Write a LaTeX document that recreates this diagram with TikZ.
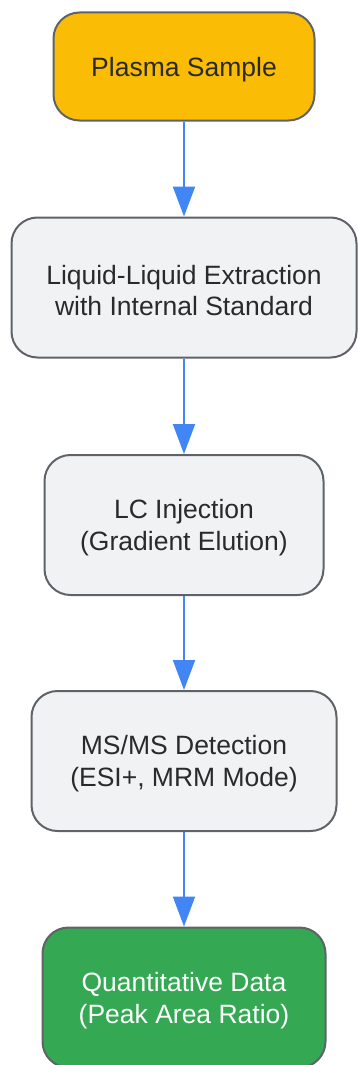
\documentclass[tikz,border=0pt]{standalone}
\usepackage{fontspec}
\setmainfont{Liberation Sans}
\usetikzlibrary{arrows.meta}
\definecolor{yellowfill}{HTML}{FABC05}
\definecolor{grayfill}{HTML}{F1F2F4}
\definecolor{greenfill}{HTML}{34A853}
\definecolor{bordercol}{HTML}{5F6368}
\definecolor{arrowcol}{HTML}{4285F4}
\definecolor{txtcol}{HTML}{2A2A2A}
\tikzset{
  box/.style={draw=bordercol, line width=2pt, rounded corners=26pt, inner sep=0pt},
  boxtext/.style={align=center, text=txtcol, inner sep=0pt, yshift=-3pt,
    font=\fontsize{26.5}{31.8}\selectfont},
  flow/.style={draw=arrowcol, line width=2pt, -{Triangle[width=22pt,length=30pt]}, arrowcol}
}
\begin{document}
\begin{tikzpicture}[x=1pt,y=1pt]
\useasboundingbox (0,0) rectangle (357,-1065);
\node[box, fill=yellowfill, minimum width=261pt, minimum height=108pt,
  label={[boxtext]center:Plasma Sample}] (n1) at (184,-66.5) {};
\node[box, fill=grayfill, minimum width=345pt, minimum height=140pt,
  label={[boxtext]center:{Liquid-Liquid Extraction\\with Internal Standard}}] (n2) at (184,-287.5) {};
\node[box, fill=grayfill, minimum width=279pt, minimum height=140pt,
  label={[boxtext]center:{LC Injection\\(Gradient Elution)}}] (n3) at (184,-525) {};
\node[box, fill=grayfill, minimum width=305pt, minimum height=140pt,
  label={[boxtext]center:{MS/MS Detection\\(ESI+, MRM Mode)}}] (n4) at (184,-761) {};
\node[box, fill=greenfill, minimum width=283pt, minimum height=140pt,
  label={[boxtext, text=white]center:{Quantitative Data\\(Peak Area Ratio)}}] (n5) at (184,-997.5) {};
\draw[flow] (n1) -- (n2);
\draw[flow] (n2) -- (n3);
\draw[flow] (n3) -- (n4);
\draw[flow] (n4) -- (n5);
\end{tikzpicture}
\end{document}
